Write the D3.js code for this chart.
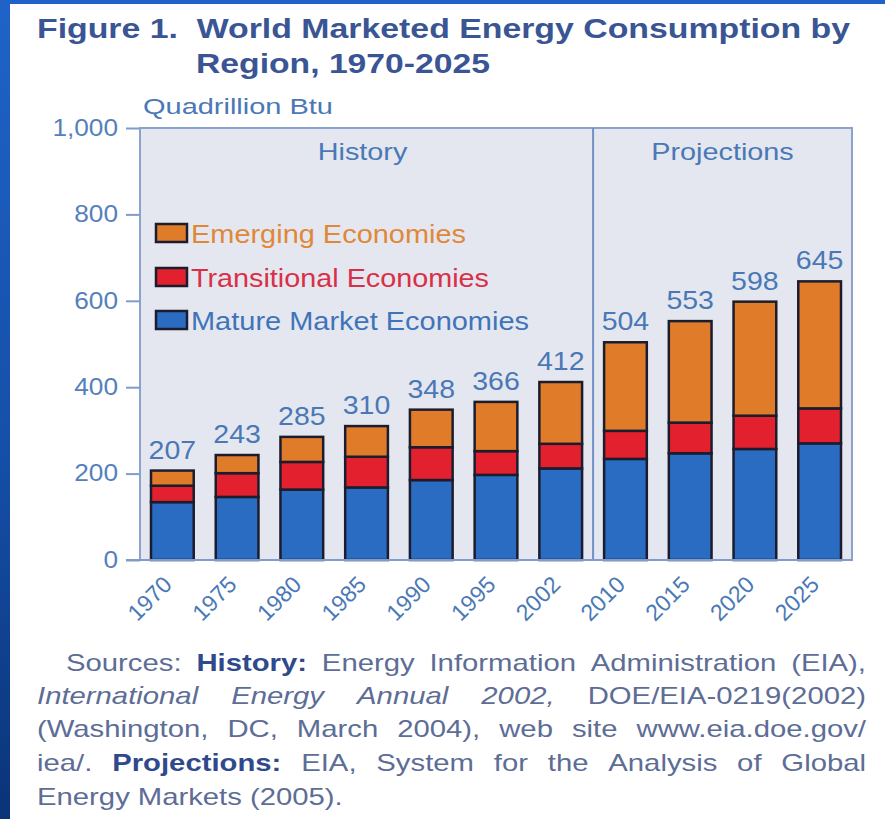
<!DOCTYPE html>
<html>
<head>
<meta charset="utf-8">
<script src="https://cdn.jsdelivr.net/npm/d3@7"></script>
<style>
  html, body { margin: 0; padding: 0; background: #ffffff; }
  svg { display: block; font-family: "Liberation Sans", Arial, Helvetica, sans-serif; }
</style>
</head>
<body>
<svg id="chart" width="885" height="819"></svg>
<script>
// World marketed energy consumption by region, quadrillion Btu
const years = ["1970", "1975", "1980", "1985", "1990", "1995", "2002", "2010", "2015", "2020", "2025"];
const mature = [134, 146, 163, 168, 185, 197, 212, 234, 247, 257, 270];
const transitional = [38, 55, 64, 71, 76, 55, 57, 65, 71, 77, 81];
const emerging = [35, 42, 58, 71, 87, 114, 143, 205, 235, 264, 294];
const yTicks = [0, 200, 400, 600, 800, 1000];
const seriesNames = ["Mature Market Economies", "Transitional Economies", "Emerging Economies"];
const historyCount = 7; // 1970-2002 are history, the rest projections

const seriesColors = ["#2a6cc2", "#e2202e", "#e07b2a"];
const legendText = ["#3f74ba", "#d93048", "#e0883a"];
const blueText = "#4a78b6";
const K = 1.14; // horizontal glyph stretch of the printed typeface

const svg = d3.select("#chart");

// page edge strips
const defs = svg.append("defs");
const grad = defs.append("linearGradient").attr("id", "edge").attr("x1", 0).attr("y1", 0).attr("x2", 0).attr("y2", 1);
grad.append("stop").attr("offset", "0%").attr("stop-color", "#1f63c8");
grad.append("stop").attr("offset", "55%").attr("stop-color", "#154fa8");
grad.append("stop").attr("offset", "100%").attr("stop-color", "#0b3478");
svg.append("rect").attr("x", 0).attr("y", 0).attr("width", 885).attr("height", 4).attr("fill", "#1f63c8");
svg.append("rect").attr("x", 0).attr("y", 0).attr("width", 10).attr("height", 819).attr("fill", "url(#edge)");

function stretch(sel, k) {
  sel.each(function () {
    const w = this.getComputedTextLength();
    d3.select(this).attr("textLength", w * k).attr("lengthAdjust", "spacingAndGlyphs");
  });
  return sel;
}

// title
const titleColor = "#3a5594";
svg.append("text").attr("x", 37).attr("y", 38)
  .attr("font-size", 28).attr("font-weight", "bold").attr("fill", titleColor)
  .attr("textLength", 813).attr("lengthAdjust", "spacingAndGlyphs")
  .attr("xml:space", "preserve")
  .text("Figure 1.  World Marketed Energy Consumption by");
svg.append("text").attr("x", 196).attr("y", 73)
  .attr("font-size", 28).attr("font-weight", "bold").attr("fill", titleColor)
  .attr("textLength", 294).attr("lengthAdjust", "spacingAndGlyphs")
  .text("Region, 1970-2025");

// unit label
svg.append("text").attr("x", 143).attr("y", 114)
  .attr("font-size", 22).attr("fill", blueText)
  .attr("textLength", 190).attr("lengthAdjust", "spacingAndGlyphs")
  .text("Quadrillion Btu");

// scales
const plot = { left: 140, right: 852, top: 128, bottom: 560 };
const x = d3.scaleBand().domain(years).range([plot.left, plot.right]).paddingInner(0.34).paddingOuter(0.17);
const y = d3.scaleLinear().domain([0, 1000]).range([plot.bottom, plot.top]);

// plot background and panels
svg.append("rect").attr("x", plot.left).attr("y", plot.top)
  .attr("width", plot.right - plot.left).attr("height", plot.bottom - plot.top)
  .attr("fill", "#e4e7ef").attr("stroke", "#8aa3cc").attr("stroke-width", 2);
const divX = plot.left + x.step() * historyCount;
svg.append("line").attr("x1", divX).attr("x2", divX).attr("y1", plot.top).attr("y2", plot.bottom)
  .attr("stroke", "#6f90c6").attr("stroke-width", 2);

stretch(svg.append("text").attr("x", (plot.left + divX) / 2 - 4).attr("y", 160)
  .attr("text-anchor", "middle").attr("font-size", 24).attr("fill", blueText).text("History"), 1.2);
stretch(svg.append("text").attr("x", (divX + plot.right) / 2).attr("y", 160)
  .attr("text-anchor", "middle").attr("font-size", 24).attr("fill", blueText).text("Projections"), 1.2);

// y axis
const yAxis = d3.axisLeft(y).tickValues(yTicks).tickFormat(d3.format(",")).tickSize(14).tickPadding(8);
const yg = svg.append("g").attr("transform", `translate(${plot.left},0)`).call(yAxis);
yg.select(".domain").remove();
yg.selectAll(".tick line").attr("stroke", "#7f9ccb").attr("stroke-width", 2);
yg.selectAll(".tick text").attr("font-size", 23).attr("fill", "#5580bb")
  .attr("font-family", "Liberation Sans, Arial, sans-serif");
stretch(yg.selectAll(".tick text"), K);

// stacked bars
const rows = years.map((yr, i) => ({ year: yr, mature: mature[i], transitional: transitional[i], emerging: emerging[i] }));
const stack = d3.stack().keys(["mature", "transitional", "emerging"]);
const layers = stack(rows);

svg.append("g").selectAll("g").data(layers).join("g")
  .attr("fill", (d, i) => seriesColors[i])
  .selectAll("rect").data(d => d).join("rect")
  .attr("x", d => x(d.data.year))
  .attr("width", x.bandwidth())
  .attr("y", d => y(d[1]))
  .attr("height", d => y(d[0]) - y(d[1]))
  .attr("stroke", "#1b1d2e").attr("stroke-width", 2.5);

// baseline
svg.append("line").attr("x1", plot.left - 14).attr("x2", plot.right).attr("y1", plot.bottom).attr("y2", plot.bottom)
  .attr("stroke", "#7f9ccb").attr("stroke-width", 2);

// totals above bars
const totals = rows.map(r => r.mature + r.transitional + r.emerging);
stretch(svg.append("g").selectAll("text").data(rows).join("text")
  .attr("x", d => x(d.year) + x.bandwidth() / 2)
  .attr("y", (d, i) => y(totals[i]) - 12)
  .attr("text-anchor", "middle").attr("font-size", 25).attr("fill", blueText)
  .text((d, i) => totals[i]), K);

// x labels
const xg = svg.append("g");
xg.selectAll("text").data(years).join("text")
  .attr("transform", d => `translate(${x(d) + x.bandwidth() / 2 + 1},${plot.bottom + 26}) rotate(-45)`)
  .attr("text-anchor", "end").attr("font-size", 23).attr("fill", blueText)
  .text(d => d);

// legend
const legendRows = [
  { name: seriesNames[2], color: seriesColors[2], text: legendText[2], y: 243, w: 275 },
  { name: seriesNames[1], color: seriesColors[1], text: legendText[1], y: 287, w: 298 },
  { name: seriesNames[0], color: seriesColors[0], text: legendText[0], y: 330, w: 338 }
];
const lg = svg.append("g");
lg.selectAll("rect").data(legendRows).join("rect")
  .attr("x", 156).attr("y", d => d.y - 19).attr("width", 31).attr("height", 18)
  .attr("fill", d => d.color).attr("stroke", "#1b1d2e").attr("stroke-width", 2.5);
lg.selectAll("text").data(legendRows).join("text")
  .attr("x", 191).attr("y", d => d.y)
  .attr("font-size", 25).attr("fill", d => d.text)
  .attr("textLength", d => d.w).attr("lengthAdjust", "spacingAndGlyphs")
  .text(d => d.name);

// source note, justified
const KN = 1.22;
const noteColor = "#5d6d96";
const noteBold = "#2f4a8c";
const noteLines = [
  { x0: 66, x1: 866, y: 671, justify: true, segs: [["Sources: ", "n"], ["History:", "b"], [" Energy Information Administration (EIA),", "n"]] },
  { x0: 37, x1: 866, y: 704, justify: true, segs: [["International Energy Annual 2002,", "i"], [" DOE/EIA-0219(2002)", "n"]] },
  { x0: 37, x1: 866, y: 737, justify: true, segs: [["(Washington, DC, March 2004), web site www.eia.doe.gov/", "n"]] },
  { x0: 37, x1: 866, y: 771, justify: true, segs: [["iea/. ", "n"], ["Projections:", "b"], [" EIA, System for the Analysis of Global", "n"]] },
  { x0: 37, x1: 866, y: 805, justify: false, segs: [["Energy Markets (2005).", "n"]] }
];
const noteG = svg.append("g").attr("font-size", 24);
noteLines.forEach(line => {
  const words = [];
  line.segs.forEach(([t, s]) => {
    t.split(" ").filter(w => w.length).forEach(w => words.push({ w, s }));
  });
  const nodes = words.map(wd => {
    const t = noteG.append("text").attr("y", line.y)
      .attr("fill", wd.s === "b" ? noteBold : noteColor)
      .attr("font-weight", wd.s === "b" ? "bold" : "normal")
      .attr("font-style", wd.s === "i" ? "italic" : "normal")
      .text(wd.w);
    const w = t.node().getComputedTextLength() * KN;
    t.attr("textLength", w).attr("lengthAdjust", "spacingAndGlyphs");
    return { t, w };
  });
  const total = d3.sum(nodes, n => n.w);
  const gap = line.justify && nodes.length > 1 ? (line.x1 - line.x0 - total) / (nodes.length - 1) : 8;
  let cx = line.x0;
  nodes.forEach(n => { n.t.attr("x", cx); cx += n.w + gap; });
});
</script>
</body>
</html>
